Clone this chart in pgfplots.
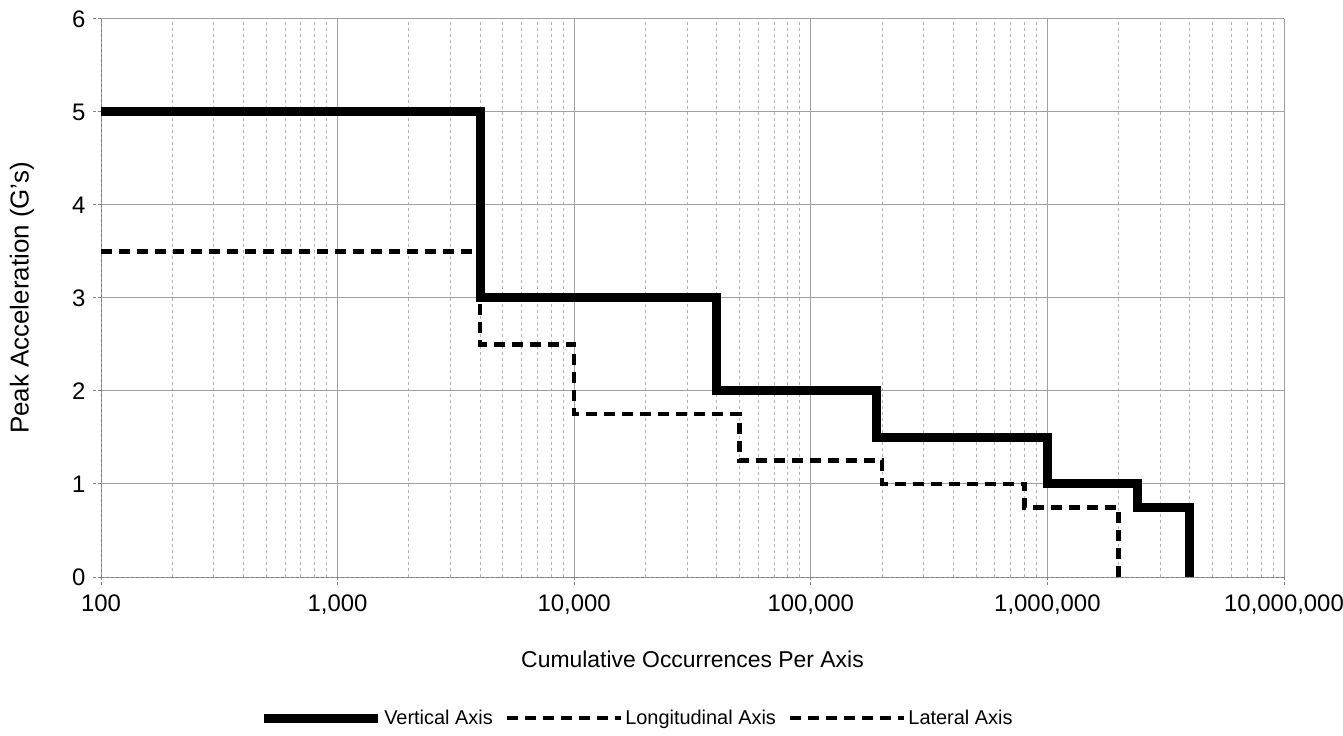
\documentclass[border=0pt]{standalone}
\usepackage{pgfplots}
\pgfplotsset{compat=1.18}
\usepackage{fontspec}
\setmainfont{Liberation Sans}
\definecolor{majgrid}{HTML}{A0A0A0}
\definecolor{mingrid}{HTML}{B4B4B4}
\definecolor{axgray}{HTML}{808080}
\begin{document}
\begin{tikzpicture}
\path[use as bounding box] (-101bp,-159bp) rectangle (1242bp,577bp);
\begin{axis}[
  scale only axis, width=1183bp, height=558bp,
  at={(0,0)}, anchor=south west,
  xmode=log, xmin=100, xmax=1e7, ymin=0, ymax=6,
  axis lines=left,
  axis line style={-, draw=axgray, line width=1bp, dash pattern=on 3bp off 2bp},
  xtick={100,1000,10000,100000,1000000,10000000},
  xticklabels={100,{1,000},{10,000},{100,000},{1,000,000},{10,000,000}},
  minor xtick={200,300,400,500,600,700,800,900,
    2000,3000,4000,5000,6000,7000,8000,9000,
    20000,30000,40000,50000,60000,70000,80000,90000,
    200000,300000,400000,500000,600000,700000,800000,900000,
    2000000,3000000,4000000,5000000,6000000,7000000,8000000,9000000},
  ytick={0,1,2,3,4,5,6},
  yticklabels={0,1,2,3,4,5,6},
  grid=both,
  major grid style={majgrid, line width=1bp, solid},
  minor grid style={mingrid, line width=1bp, dash pattern=on 3bp off 3bp},
  tick align=outside,
  major tick length=8bp, minor tick length=0bp,
  tick style={axgray, line width=1bp, dash pattern=on 3bp off 2bp},
  ticklabel style={font=\fontsize{24}{24}\selectfont},
  xticklabel style={yshift=-6bp},
  yticklabel style={xshift=-4bp},
  xlabel={Cumulative Occurrences Per Axis},
  ylabel={Peak Acceleration (G's)},
  xlabel style={font=\fontsize{23}{23}\selectfont, at={(axis description cs:0.5,-0.147)}, anchor=center},
  ylabel style={font=\fontsize{26}{26}\selectfont, at={(axis description cs:-0.0668,0.5)}, anchor=center},
  legend style={at={(axis description cs:0.453,-0.253)}, anchor=center, draw=none,
    font=\fontsize{20}{20}\selectfont,
    /tikz/every even column/.append style={column sep=10bp}},
  legend columns=3,
  legend cell align=left,
  legend image code/.code={\draw[#1] (0bp,0bp) -- (114bp,0bp);},
]
\addplot[black, line width=9bp, line join=miter] coordinates {
  (100,5) (4000,5) (4000,3) (40000,3) (40000,2) (190000,2) (190000,1.5)
  (1000000,1.5) (1000000,1) (2400000,1) (2400000,0.75) (4000000,0.75) (4000000,0)
};
\addlegendentry{Vertical Axis}
\addplot[black, line width=4.5bp, dash pattern=on 11bp off 7bp] coordinates {
  (100,3.5) (4000,3.5) (4000,2.5) (10000,2.5) (10000,1.75) (50000,1.75) (50000,1.25)
  (200000,1.25) (200000,1) (800000,1) (800000,0.75) (2000000,0.75) (2000000,0)
};
\addlegendentry{Longitudinal Axis}
\addplot[black, line width=4.5bp, dash pattern=on 11bp off 7bp] coordinates {
  (100,3.5) (4000,3.5) (4000,2.5) (10000,2.5) (10000,1.75) (50000,1.75) (50000,1.25)
  (200000,1.25) (200000,1) (800000,1) (800000,0.75) (2000000,0.75) (2000000,0)
};
\addlegendentry{Lateral Axis}
\end{axis}
\end{tikzpicture}
\end{document}
